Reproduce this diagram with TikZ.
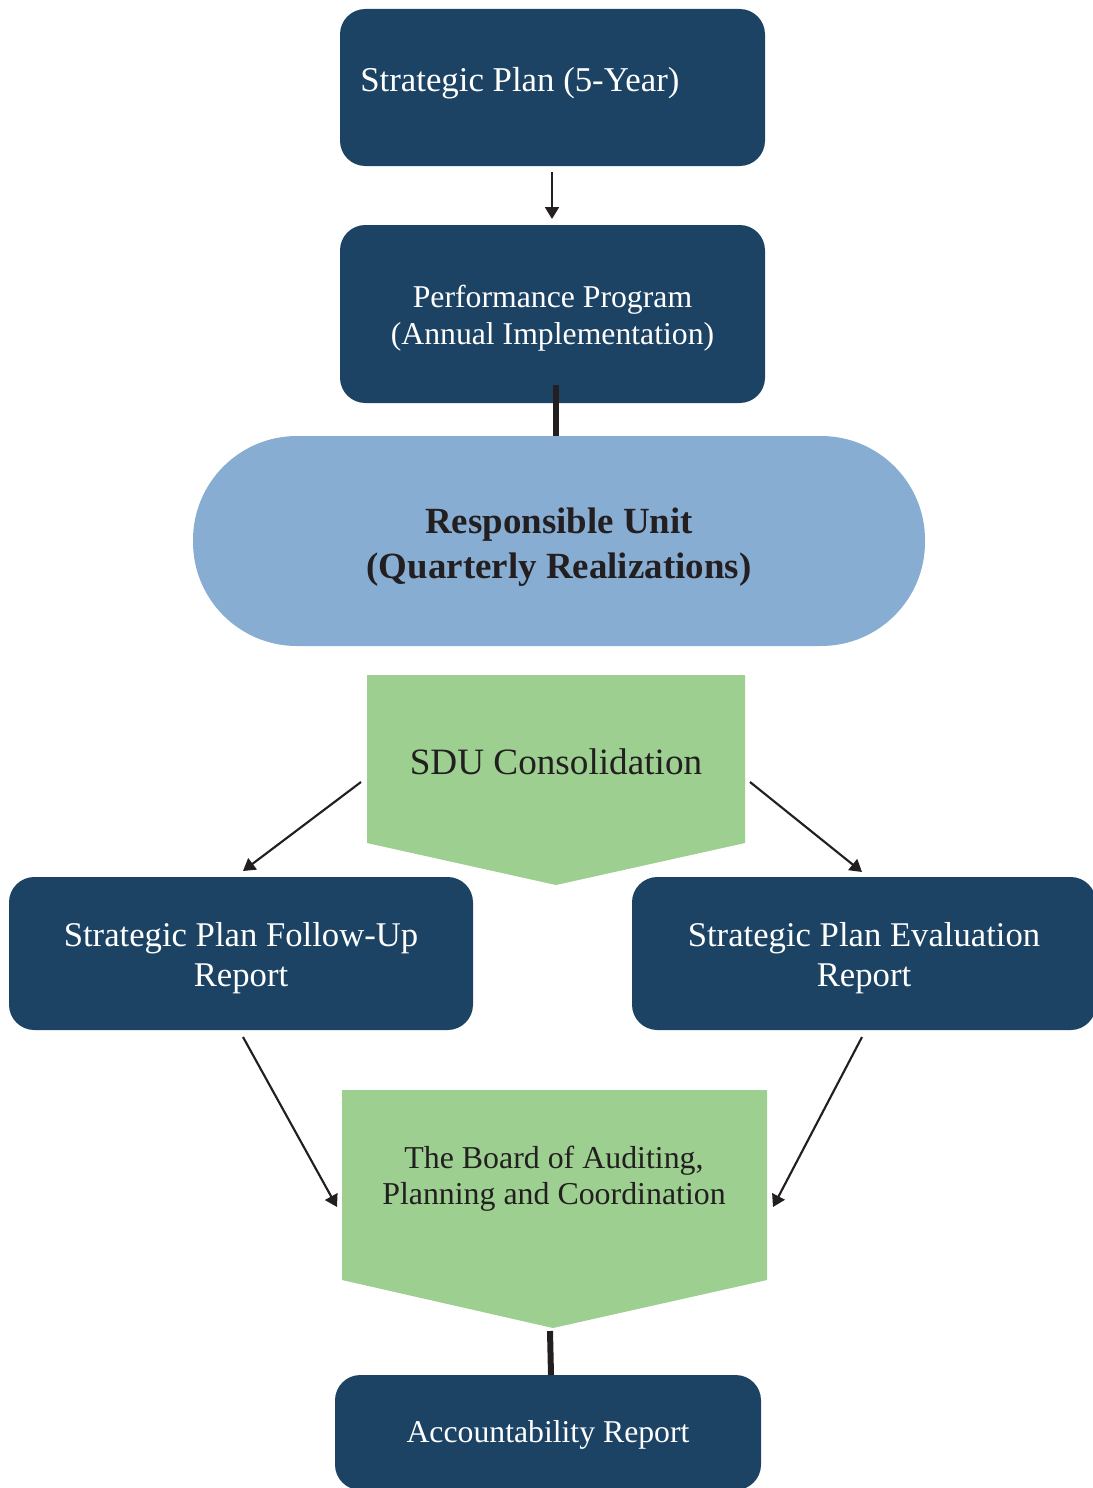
\documentclass[tikz,border=0pt]{standalone}
\usepackage{fontspec}
\setmainfont{Liberation Serif}
\usetikzlibrary{arrows.meta}
\definecolor{navy}{HTML}{1C4364}
\definecolor{skyb}{HTML}{88ADD3}
\definecolor{leaf}{HTML}{9CCF90}
\definecolor{ink}{HTML}{231F20}
\tikzset{
  dbox/.style={fill=navy, rounded corners=19pt, inner sep=0pt},
  ubox/.style={fill=skyb, rounded corners=78pt, inner sep=0pt},
  wtext/.style={text=white, align=center, inner sep=0pt},
  gtext/.style={text=ink, align=center, inner sep=0pt},
  arr/.style={draw=ink, line width=1.6pt, -{Triangle[length=9pt,width=10.5pt]}},
  bar/.style={draw=ink, line width=4.5pt},
}
\begin{document}
\begin{tikzpicture}[x=0.75pt,y=-0.75pt]
\useasboundingbox (0,0) rectangle (1092,1488);
% Strategic plan
\node[dbox, minimum width=318.75pt, minimum height=117.75pt] (sp) at (552.5,87.5) {};
\node[wtext, anchor=west, font=\fontsize{26.1}{30}\selectfont] (sptxt) at (360,83) {Strategic Plan (5-Year)};
% Performance program
\node[dbox, minimum width=318.75pt, minimum height=133.5pt] (pp) at (552.5,314) {};
\node[wtext, font=\fontsize{23.8}{27.75}\selectfont] (pptxt) at (552.5,318) {Performance Program\\(Annual Implementation)};
% Responsible unit
\node[ubox, minimum width=549pt, minimum height=157.5pt] (ru) at (559,541) {};
\node[gtext, font=\fontsize{27.7}{33.75}\selectfont\bfseries] (rutxt) at (559,547) {Responsible Unit\\(Quarterly Realizations)};
% SDU consolidation
\fill[leaf] (367,675) coordinate (sdunw) -- (745,675) coordinate (sdune) -- (745,843) -- (556,885) coordinate (sdutip) -- (367,843) -- cycle;
\node[gtext, font=\fontsize{27.9}{32}\selectfont] (sdu) at (556,762) {SDU Consolidation};
% Reports
\node[dbox, minimum width=348pt, minimum height=114.75pt] (fu) at (241,953.5) {};
\node[wtext, font=\fontsize{26}{30}\selectfont] (futxt) at (241,958.5) {Strategic Plan Follow-Up\\Report};
\node[dbox, minimum width=348pt, minimum height=114.75pt] (ev) at (864,953.5) {};
\node[wtext, font=\fontsize{26}{30}\selectfont] (evtxt) at (864,958.5) {Strategic Plan Evaluation\\Report};
% Board
\fill[leaf] (342,1090) coordinate (bdnw) -- (767,1090) coordinate (bdne) -- (767,1280) -- (553,1328) coordinate (bdtip) -- (342,1280) -- cycle;
\node[gtext, font=\fontsize{23.9}{27}\selectfont] (bd) at (554,1179) {The Board of Auditing,\\Planning and Coordination};
% Accountability
\node[dbox, minimum width=319.5pt, minimum height=86.25pt] (acc) at (548,1432.5) {};
\node[wtext, font=\fontsize{23.8}{28}\selectfont] (acctxt) at (548,1434.5) {Accountability Report};
% connectors
\coordinate (a1s) at (552,172);
\coordinate (a1e) at (552,219);
\draw[arr] (a1s) -- (a1e);
\coordinate (b1s) at (556,385);
\draw[bar] (b1s) -- (b1s |- ru.north);
\coordinate (l1s) at (361,782);
\coordinate (l1e) at (243,871);
\coordinate (r1s) at (750,782);
\coordinate (r1e) at (862,872);
\draw[arr] (l1s) -- (l1e);
\draw[arr] (r1s) -- (r1e);
\coordinate (l2s) at (243,1037);
\coordinate (l2e) at (337,1207);
\coordinate (r2s) at (862,1037);
\coordinate (r2e) at (773,1207);
\draw[arr] (l2s) -- (l2e);
\draw[arr] (r2s) -- (r2e);
\coordinate (b2s) at (550,1331);
\coordinate (b2e) at (551,1375);
\draw[bar] (b2s) -- (b2e);
\end{tikzpicture}
\end{document}
